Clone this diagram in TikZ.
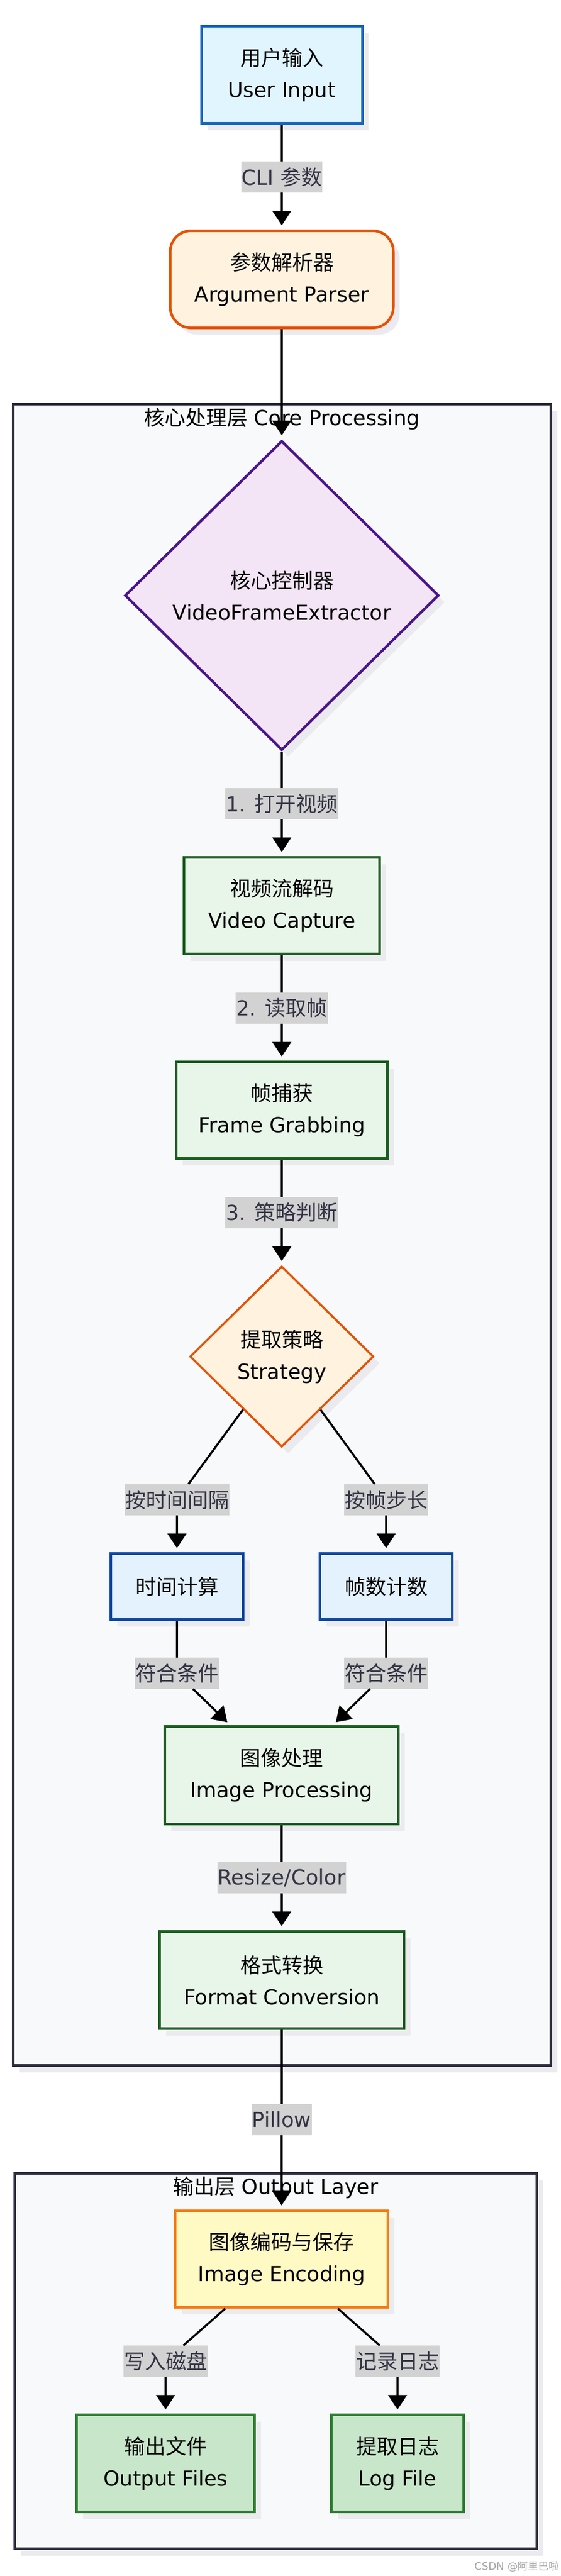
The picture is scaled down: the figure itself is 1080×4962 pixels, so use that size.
\documentclass[tikz,border=0pt]{standalone}
\usepackage{fontspec}
\setmainfont{DejaVu Sans}
\newfontfamily\cjk{Noto Sans CJK SC}
\usetikzlibrary{shapes.geometric,arrows.meta,shadows}
\newcommand\zhtext[1]{{\cjk #1}}
\definecolor{shadowc}{HTML}{EBEBEF}
\definecolor{clusterfill}{HTML}{F8F9FA}
\definecolor{clusterline}{HTML}{2B2B3B}
\definecolor{lblgray}{HTML}{D2D2D2}
\definecolor{lbltext}{HTML}{333344}
\definecolor{uiline}{HTML}{1565C0}
\definecolor{uifill}{HTML}{E1F5FE}
\definecolor{bline}{HTML}{0D47A1}
\definecolor{bfill}{HTML}{E3F2FD}
\definecolor{oline}{HTML}{E65100}
\definecolor{ofill}{HTML}{FFF3E0}
\definecolor{pline}{HTML}{4A148C}
\definecolor{pfill}{HTML}{F3E5F5}
\definecolor{gline}{HTML}{1B5E20}
\definecolor{gfill}{HTML}{E8F5E9}
\definecolor{yline}{HTML}{F57F17}
\definecolor{yfill}{HTML}{FFF9C4}
\definecolor{outline}{HTML}{2E7D32}
\definecolor{outfill}{HTML}{C8E6C9}
\begin{document}
\begin{tikzpicture}[x=1pt,y=-1pt,
  shad/.style={drop shadow={shadow xshift=12pt,shadow yshift=-13pt,fill=shadowc,opacity=1}},
  base/.style={draw,line width=5pt,inner sep=0pt,align=center,text=black,
    font=\fontsize{40pt}{61pt}\selectfont,shad},
  cluster/.style={draw=clusterline,fill=clusterfill,line width=5pt,inner sep=0pt,shad},
  ctitle/.style={inner sep=0pt,text=black,font=\fontsize{40pt}{48pt}\selectfont},
  uibox/.style={base,draw=uiline,fill=uifill},
  apbox/.style={base,draw=oline,fill=ofill,rounded corners=40pt},
  vfebox/.style={base,diamond,draw=pline,fill=pfill},
  gbox/.style={base,draw=gline,fill=gfill},
  strbox/.style={base,diamond,draw=oline,fill=ofill,line width=4pt},
  bbox/.style={base,draw=bline,fill=bfill},
  ybox/.style={base,draw=yline,fill=yfill},
  outbox/.style={base,draw=outline,fill=outfill,line width=4.5pt},
  lbl/.style={fill=lblgray,text=lbltext,inner xsep=1pt,inner ysep=0pt,minimum height=60pt,
    font=\fontsize{40pt}{48pt}\selectfont},
  conn/.style={line width=4pt,draw=black},
  arr/.style={conn,-{Triangle[length=28pt,width=36pt]},shorten >=8pt}
]
\useasboundingbox (0,0) rectangle (1080,4962);
\fill[white] (0,0) rectangle (1080,4962);

% clusters
\node[cluster,minimum width=1036pt,minimum height=3200pt] (core) at (543.5,2378.5) {};
\node[ctitle] (coretitle) at (543,807) {\zhtext{核心处理层} Core Processing};
\node[cluster,minimum width=1006pt,minimum height=723pt] (outl) at (531.5,4548) {};
\node[ctitle] (outtitle) at (531,4214) {\zhtext{输出层} Output Layer};

% nodes
\node[uibox,minimum width=310pt,minimum height=187pt] (ui) at (543,144) {\zhtext{用户输入}\\User Input};
\node[apbox,minimum width=430pt,minimum height=187pt] (ap) at (543,538) {\zhtext{参数解析器}\\Argument Parser};
\node[vfebox,minimum width=605pt,minimum height=596pt] (vfe) at (543,1147) {\zhtext{核心控制器}\\VideoFrameExtractor};
\node[gbox,minimum width=377pt,minimum height=186pt] (vc) at (543,1744.5) {\zhtext{视频流解码}\\Video Capture};
\node[gbox,minimum width=407pt,minimum height=186pt] (fg) at (543,2138.5) {\zhtext{帧捕获}\\Frame Grabbing};
\node[strbox,minimum width=354pt,minimum height=348pt] (str) at (543,2613) {\zhtext{提取策略}\\Strategy};
\node[bbox,minimum width=255pt,minimum height=127pt] (tc) at (341,3056) {\zhtext{时间计算}};
\node[bbox,minimum width=255pt,minimum height=127pt] (fcnt) at (744,3056) {\zhtext{帧数计数}};
\node[gbox,minimum width=450pt,minimum height=188pt] (ip) at (542.5,3419.5) {\zhtext{图像处理}\\Image Processing};
\node[gbox,minimum width=471pt,minimum height=187pt] (fcv) at (543,3814) {\zhtext{格式转换}\\Format Conversion};
\node[ybox,minimum width=410pt,minimum height=186pt] (ie) at (542.5,4351.5) {\zhtext{图像编码与保存}\\Image Encoding};
\node[outbox,minimum width=343pt,minimum height=187pt] (of) at (319,4745) {\zhtext{输出文件}\\Output Files};
\node[outbox,minimum width=255pt,minimum height=187pt] (lf) at (766,4745) {\zhtext{提取日志}\\Log File};

% branch labels
\node[lbl] (l1) at (341,2889) {\zhtext{按时间间隔}};
\node[lbl] (l2) at (744,2889) {\zhtext{按帧步长}};
\node[lbl] (l3) at (341,3223) {\zhtext{符合条件}};
\node[lbl] (l4) at (744,3223) {\zhtext{符合条件}};
\node[lbl] (l5) at (319,4548) {\zhtext{写入磁盘}};
\node[lbl] (l6) at (766,4548) {\zhtext{记录日志}};

% edges
\draw[arr] (ui) -- node[lbl] {CLI \zhtext{参数}} (ap);
\draw[arr] (ap) -- (vfe);
\draw[arr] (vfe) -- node[lbl] {1. \zhtext{打开视频}} (vc);
\draw[arr] (vc) -- node[lbl] {2. \zhtext{读取帧}} (fg);
\draw[arr] (fg) -- node[lbl] {3. \zhtext{策略判断}} (str);
\draw[conn] (str) -- (l1);
\draw[conn] (str) -- (l2);
\draw[arr] (l1) -- (tc);
\draw[arr] (l2) -- (fcnt);
\draw[conn] (tc) -- (l3);
\draw[conn] (fcnt) -- (l4);
\draw[arr] (l3) -- (ip);
\draw[arr] (l4) -- (ip);
\draw[arr] (ip) -- node[lbl] {Resize/Color} (fcv);
\draw[arr] (fcv) -- node[lbl] {Pillow} (ie);
\draw[conn] (ie) -- (l5);
\draw[conn] (ie) -- (l6);
\draw[arr] (l5) -- (of);
\draw[arr] (l6) -- (lf);

% watermark
\node[anchor=east,inner sep=0pt,text=black!35,font=\fontsize{20pt}{24pt}\selectfont] (wm) at (1078,4944) {CSDN @\zhtext{阿里巴啦}};
\end{tikzpicture}
\end{document}
